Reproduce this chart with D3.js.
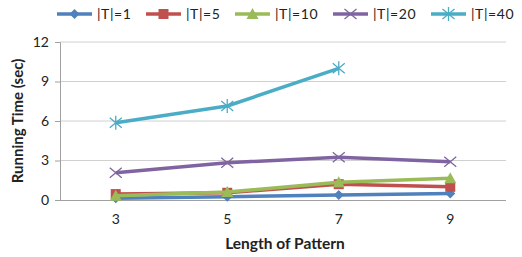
<!DOCTYPE html>
<html><head><meta charset="utf-8">
<script src="https://cdn.jsdelivr.net/npm/d3@7"></script>
<style>body{margin:0;background:#fff}svg{display:block}text{font-family:Lato,"Open Sans",sans-serif}</style>
</head><body><svg id="c" width="522" height="257"></svg>
<script>
const categories = [3, 5, 7, 9];
const seriesNames = ["|T|=1", "|T|=5", "|T|=10", "|T|=20", "|T|=40"];
const t1 = [0.13, 0.25, 0.38, 0.5];
const t5 = [0.45, 0.55, 1.2, 1.0];
const t10 = [0.33, 0.6, 1.34, 1.65];
const t20 = [2.07, 2.83, 3.24, 2.91];
const t40 = [5.87, 7.14, 10.0, null];
const yTicks = [0, 3, 6, 9, 12];
const colors = ["#4F81BD", "#C0504D", "#9BBB59", "#8064A2", "#4BACC6"];
const markers = ["diamond", "square", "triangle", "x", "star"];
const seriesVals = [t1, t5, t10, t20, t40];

const svg = d3.select("#c");
const L = 60, R = 506, T = 42, B = 200;
const x = d3.scaleBand().domain(categories).range([L, R]);
const y = d3.scaleLinear().domain([0, 12]).range([B, T]);

svg.append("g").selectAll("line").data(yTicks.filter(d => d > 0)).join("line")
  .attr("x1", L).attr("x2", R).attr("y1", d => y(d)).attr("y2", d => y(d))
  .attr("stroke", "#d0d0d0").attr("stroke-width", 1);

const ya = svg.append("g").attr("transform", `translate(${L},0)`).call(d3.axisLeft(y).tickValues(yTicks).tickSize(5).tickPadding(6));
ya.select(".domain").attr("stroke", "#a0a0a0");
ya.selectAll(".tick line").attr("stroke", "#a0a0a0");
ya.selectAll("text").attr("font-size", 14).attr("fill", "#222").style("font-family", "Lato, 'Open Sans', sans-serif");

const xa = svg.append("g").attr("transform", `translate(0,${B})`).call(d3.axisBottom(x).tickSize(0).tickPadding(14));
xa.select(".domain").attr("stroke", "#a0a0a0").attr("d", `M${L},0.5H${R}`);
xa.selectAll("text").attr("font-size", 14).attr("fill", "#222").style("font-family", "Lato, 'Open Sans', sans-serif");

svg.append("text").attr("x", (L + R) / 2 + 2).attr("y", 249).attr("text-anchor", "middle")
  .attr("font-size", 15.5).attr("font-weight", "bold").attr("fill", "#222").text("Length of Pattern");
svg.append("text").attr("transform", `translate(23,${(T + B) / 2}) rotate(-90)`).attr("text-anchor", "middle")
  .attr("font-size", 15).attr("font-weight", "bold").attr("fill", "#222").text("Running Time (sec)");

function drawMarker(g, type, cx, cy, color) {
  const s = 5;
  if (type === "diamond") {
    g.append("path").attr("d", `M${cx},${cy - s}L${cx + s},${cy}L${cx},${cy + s}L${cx - s},${cy}Z`).attr("fill", color);
  } else if (type === "square") {
    g.append("rect").attr("x", cx - s).attr("y", cy - s).attr("width", 2 * s).attr("height", 2 * s).attr("fill", color);
  } else if (type === "triangle") {
    g.append("path").attr("d", `M${cx},${cy - s - 1}L${cx + s + 1},${cy + s}L${cx - s - 1},${cy + s}Z`).attr("fill", color);
  } else if (type === "x") {
    g.append("path").attr("d", `M${cx - s - 1},${cy - s}L${cx + s + 1},${cy + s}M${cx - s - 1},${cy + s}L${cx + s + 1},${cy - s}`)
      .attr("stroke", color).attr("stroke-width", 1.3);
  } else {
    g.append("path").attr("d", `M${cx - s - 1},${cy - s}L${cx + s + 1},${cy + s}M${cx - s - 1},${cy + s}L${cx + s + 1},${cy - s}M${cx},${cy - s - 2}V${cy + s + 2}`)
      .attr("stroke", color).attr("stroke-width", 1.3);
  }
}

const line = d3.line().defined(d => d.v != null).x(d => x(d.c) + x.bandwidth() / 2).y(d => y(d.v));
seriesVals.forEach((vals, i) => {
  const pts = categories.map((c, j) => ({ c, v: vals[j] }));
  const g = svg.append("g");
  g.append("path").datum(pts).attr("d", line).attr("fill", "none")
    .attr("stroke", colors[i]).attr("stroke-width", 3.5).attr("stroke-linejoin", "round");
  pts.filter(p => p.v != null).forEach(p => drawMarker(g, markers[i], x(p.c) + x.bandwidth() / 2, y(p.v), colors[i]));
});

const legX = [57, 146, 235, 333, 431];
seriesNames.forEach((n, i) => {
  const g = svg.append("g");
  g.append("line").attr("x1", legX[i]).attr("x2", legX[i] + 35).attr("y1", 14).attr("y2", 14)
    .attr("stroke", colors[i]).attr("stroke-width", 3.5);
  drawMarker(g, markers[i], legX[i] + 17.5, 14, colors[i]);
  g.append("text").attr("x", legX[i] + 40).attr("y", 19).attr("font-size", 14).attr("letter-spacing", 0.6).attr("fill", "#222").text(n);
});
</script></body></html>
